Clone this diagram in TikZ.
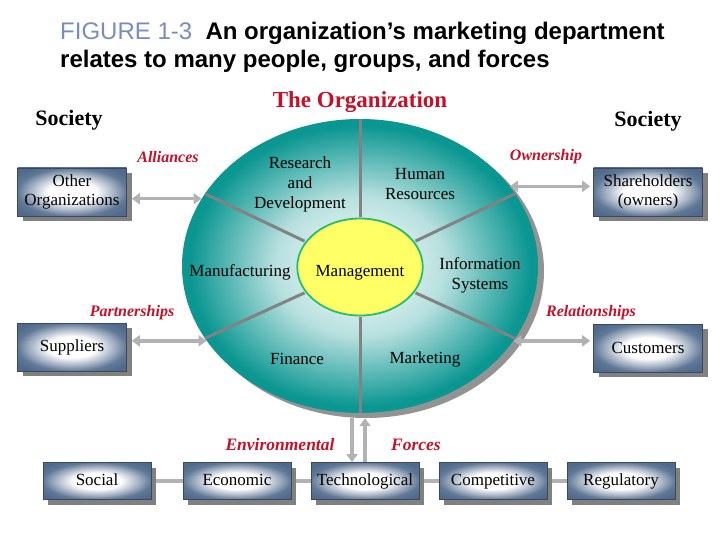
\documentclass[tikz,border=0pt]{standalone}
\usepackage{fontspec}
\setmainfont{Liberation Serif}
\newfontfamily\headfont{Liberation Sans}
\usetikzlibrary{shapes.geometric,shadows,arrows.meta}

\definecolor{titleblue}{RGB}{120,140,190}
\definecolor{tiered}{RGB}{196,16,40}
\definecolor{orgteal}{RGB}{10,150,145}
\definecolor{boxblue}{RGB}{80,106,140}
\definecolor{shadowgray}{RGB}{128,128,128}
\definecolor{flowgray}{RGB}{178,178,178}
\definecolor{spokegray}{RGB}{130,130,130}
\definecolor{mgmtyellow}{RGB}{255,255,102}
\definecolor{mgmtgreen}{RGB}{40,190,110}

\pgfdeclareradialshading{boxshade}{\pgfpoint{0bp}{0bp}}{color(0bp)=(white); color(11bp)=(white); color(19bp)=(boxblue!50!white); color(25bp)=(boxblue!90!white); color(31bp)=(boxblue); color(50bp)=(boxblue)}
\pgfdeclareradialshading{orgshade}{\pgfpoint{0bp}{0bp}}{color(0bp)=(white); color(12bp)=(white!70!orgteal); color(18bp)=(white!35!orgteal); color(24bp)=(orgteal); color(50bp)=(orgteal)}

\begin{document}
\begin{tikzpicture}[x=1pt,y=-1pt,
        box/.style={rectangle,draw=boxblue!70!black,line width=0.6pt,
            shade,shading=boxshade,minimum width=109pt,minimum height=48pt,
            align=center,inner sep=1pt,font=\fontsize{17}{19}\selectfont,
            general shadow={fill=shadowgray,shadow xshift=5pt,shadow yshift=-5pt}},
        force/.style={box,minimum width=108pt,minimum height=37pt,
            text height=12pt,text depth=4pt},
        dept/.style={align=center,font=\fontsize{17}{20}\selectfont},
        tie/.style={text=tiered,font=\fontsize{16}{16}\selectfont\bfseries\itshape},
        society/.style={font=\fontsize{22}{22}\selectfont\bfseries},
        flow/.style={draw=flowgray,line width=3.5pt,>={Triangle[length=8pt,width=11pt]}},
        joint/.style={draw=flowgray,line width=3.5pt},
        spoke/.style={draw=spokegray,line width=3pt}]
\useasboundingbox (0,0) rectangle (720,540);

% title
\node[anchor=north west,inner sep=0,align=left,
    font=\headfont\fontsize{24}{28}\selectfont] (title) at (60,22)
    {{\color{titleblue}FIGURE 1-3}\ \ \textbf{An organization’s marketing department}\\
     \textbf{relates to many people, groups, and forces}};

\node[society] (socl) at (69,120) {Society};
\node[society] (socr) at (648,121) {Society};
\node[society,text=tiered,font=\fontsize{23}{23}\selectfont\bfseries] (orgname) at (360,102) {The Organization};

% the organization
\node[ellipse,minimum width=356pt,minimum height=294pt,inner sep=0,
    shade,shading=orgshade,
    general shadow={fill=shadowgray!85,shadow xshift=6pt,shadow yshift=-5pt}] (org) at (360,266) {};
\node[ellipse,minimum width=120pt,minimum height=97pt,inner sep=0,
    fill=mgmtyellow,draw=mgmtgreen,line width=1.8pt,
    font=\fontsize{17}{20}\selectfont] (mgmt) at (360,267) {\raisebox{-9pt}[0pt][0pt]{Management}};
\foreach \a in {25,90,155,205,270,335}
    \draw[spoke,shorten <=1pt] (mgmt.\a) -- (org.\a);

\node[dept] (rd) at (300,184) {Research\\and\\Development};
\node[dept] (hr) at (420,184) {Human\\Resources};
\node[dept] (manu) at (240,272) {Manufacturing};
\node[dept] (info) at (480,275) {Information\\Systems};
\node[dept] (fin) at (297,359) {Finance};
\node[dept] (mkt) at (425,359) {Marketing};

% outside groups
\node[box] (othorg) at (72,192) {Other\\Organizations};
\node[box] (share) at (648,192) {Shareholders\\(owners)};
\node[box] (supp) at (72,347) {Suppliers};
\node[box] (cust) at (648,348) {Customers};

\draw[flow,<->] ([xshift=5pt]othorg.east |- org.157) -- (org.157);
\draw[flow,<->] (org.28) -- ([xshift=-3pt]share.west |- org.28);
\draw[flow,<->] ([xshift=5pt]supp.east |- org.206) -- (org.206);
\draw[flow,<->] (org.334) -- ([xshift=-3pt]cust.west |- org.334);

\node[tie] (alli) at (168,157) {Alliances};
\node[tie] (owner) at (546,157) {Ownership};
\node[tie] (partner) at (132,313) {Partnerships};
\node[tie] (relat) at (591,313) {Relationships};

% environmental forces
\node[force] (social) at (97,481) {Social};
\node[force] (econ) at (237,481) {Economic};
\node[force] (tech) at (365,481) {Technological};
\node[force] (comp) at (493,481) {Competitive};
\node[force] (regul) at (621,481) {Regulatory};

\draw[joint,shorten <=5pt] (social) -- (econ);
\draw[joint,shorten <=5pt] (econ) -- (tech);
\draw[joint,shorten <=5pt] (tech) -- (comp);
\draw[joint,shorten <=5pt] (comp) -- (regul);

\draw[flow,->] ([xshift=-8pt,yshift=-5pt]org.south) -- ([xshift=-8pt]org.south |- tech.north);
\draw[flow,<-] ([xshift=5pt,yshift=-5pt]org.south) -- ([xshift=5pt]org.south |- tech.north);

\node[tie,font=\fontsize{17.5}{17.5}\selectfont\bfseries\itshape] (envir) at (280,445) {Environmental};
\node[tie,font=\fontsize{17.5}{17.5}\selectfont\bfseries\itshape] (forces) at (416,445) {Forces};

\end{tikzpicture}
\end{document}
